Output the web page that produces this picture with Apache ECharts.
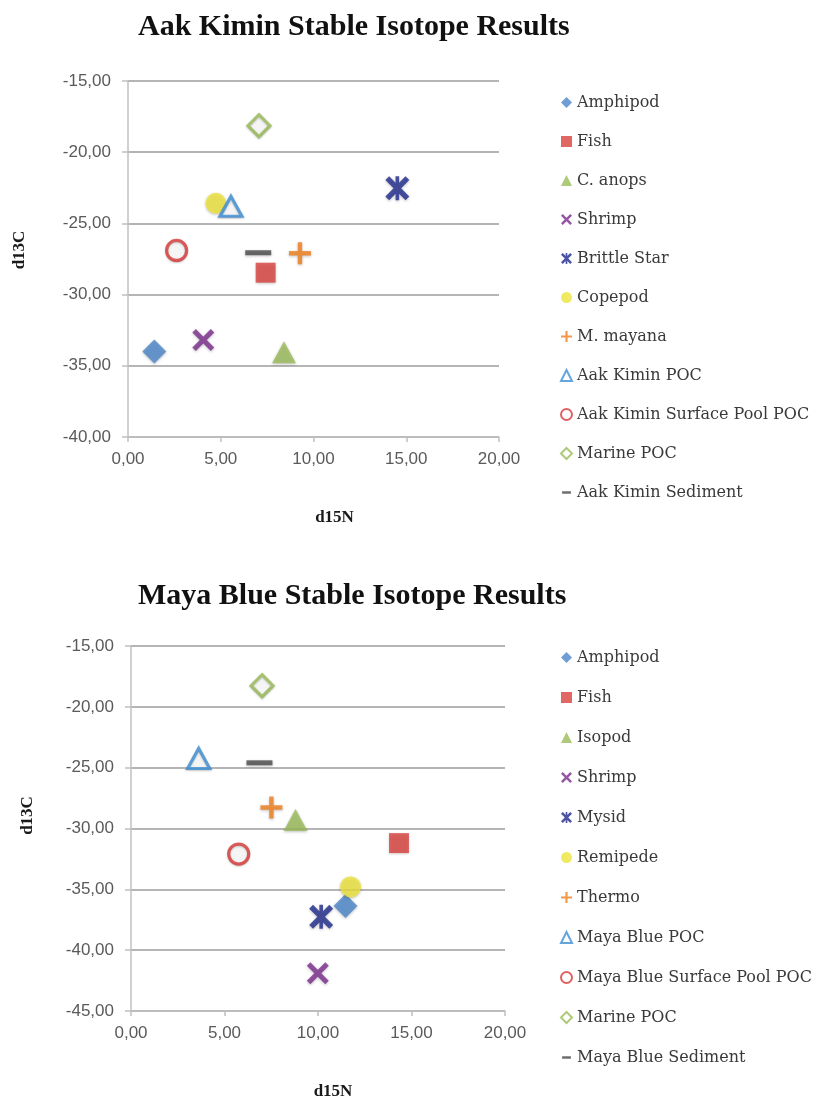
<!DOCTYPE html>
<html>
<head>
<meta charset="utf-8">
<script src="https://cdn.jsdelivr.net/npm/echarts@6/dist/echarts.min.js"></script>
<style>html,body{margin:0;padding:0;background:#fff;}#c{width:833px;height:1101px;}</style>
</head>
<body>
<div id="c"></div>
<script>
// ---- data ----
const aakTitle = 'Aak Kimin Stable Isotope Results';
const aakNames = ['Amphipod','Fish','C. anops','Shrimp','Brittle Star','Copepod','M. mayana','Aak Kimin POC','Aak Kimin Surface Pool POC','Marine POC','Aak Kimin Sediment'];
const aakD15N = [1.42, 7.42, 8.41, 4.06, 14.52, 4.74, 9.27, 5.55, 2.62, 7.06, 7.02];
const aakD13C = [-34.0, -28.46, -34.05, -33.19, -22.53, -23.59, -27.1, -23.8, -26.9, -18.14, -27.06];

const mayaTitle = 'Maya Blue Stable Isotope Results';
const mayaNames = ['Amphipod','Fish','Isopod','Shrimp','Mysid','Remipede','Thermo','Maya Blue POC','Maya Blue Surface Pool POC','Marine POC','Maya Blue Sediment'];
const mayaD15N = [11.47, 14.33, 8.80, 9.99, 10.17, 11.74, 7.51, 3.62, 5.76, 7.01, 6.87];
const mayaD13C = [-36.36, -31.2, -29.3, -41.9, -37.26, -34.8, -28.27, -24.24, -32.1, -18.26, -24.6];

const xTicks = [0, 5, 10, 15, 20];
const aakYTicks = [-40, -35, -30, -25, -20, -15];
const mayaYTicks = [-45, -40, -35, -30, -25, -20, -15];

// ---- marker styles (by position in legend) ----
const P_PLUS = 'path://M4,0 H6 V4 H10 V6 H6 V10 H4 V6 H0 V4 H4 Z';
const P_X = 'path://M0,1.6 L1.6,0 L5,3.4 L8.4,0 L10,1.6 L6.6,5 L10,8.4 L8.4,10 L5,6.6 L1.6,10 L0,8.4 L3.4,5 Z';
const P_STAR = 'path://M0,1.6 L1.6,0 L5,3.4 L8.4,0 L10,1.6 L6.6,5 L10,8.4 L8.4,10 L5,6.6 L1.6,10 L0,8.4 L3.4,5 Z M4.25,0 H5.75 V10 H4.25 Z';
const P_DASH_ICON = 'path://M0,0 L0.01,0 L0.01,0.01 Z M10,10 L9.99,10 L9.99,9.99 Z M1,3.8 H9 V6.2 H1 Z';
const kinds = [
  {symbol:'diamond', size:24, color:'#4A86C8'},
  {symbol:'rect', size:20, color:'#D9413E'},
  {symbol:'triangle', size:[24,22], color:'#9BBB59'},
  {symbol:P_X, size:22, color:'#7B2C8C'},
  {symbol:P_STAR, size:[24,24], color:'#1F2A8C'},
  {symbol:'circle', size:21, color:'#EEE33A'},
  {symbol:P_PLUS, size:22, color:'#F07D1C'},
  {symbol:'triangle', size:[22,20], color:'#3E8FD6', hollow:true},
  {symbol:'circle', size:20, color:'#D93A3A', hollow:true},
  {symbol:'diamond', size:22, color:'#9BBB59', hollow:true},
  {symbol:'rect', size:[26,5], color:'#4A4A4A', legendIcon:P_DASH_ICON}
];

function mkSeries(names, xs, ys, gi) {
  return names.map((n, i) => {
    const k = kinds[i];
    const st = k.hollow
      ? {color:'#ffffff', borderColor:k.color, borderWidth:3.2, shadowBlur:2, shadowColor:'rgba(0,0,0,0.25)', shadowOffsetY:1}
      : {color:k.color, shadowBlur:3, shadowColor:'rgba(0,0,0,0.3)', shadowOffsetY:1};
    return {
      name:n, type:'scatter', xAxisIndex:gi, yAxisIndex:gi,
      symbol:k.symbol, symbolSize:k.size, itemStyle:st,
      emphasis:{disabled:true},
      data:[[xs[i], ys[i]]]
    };
  });
}
function mkLegendData(names) {
  return names.map((n, i) => kinds[i].legendIcon ? {name:n, icon:kinds[i].legendIcon} : {name:n});
}

const fmt = v => v.toFixed(2).replace('.', ',');
const gridColor = '#9c9c9c';
const axColor = '#c0c0c0';
const lblStyle = {fontFamily:'Liberation Sans', fontSize:17, color:'#5a5a5a'};
const nameStyle = {fontFamily:'Liberation Serif', fontWeight:'bold', fontSize:17, color:'#1a1a1a'};

function mkX(gi, padLeft) {
  return {
    gridIndex:gi, type:'value', min:xTicks[0], max:xTicks[xTicks.length-1], interval:5,
    axisLine:{show:true, onZero:false, lineStyle:{color:axColor, width:1.5}},
    axisTick:{show:true, length:5, lineStyle:{color:axColor, width:1.5}},
    axisLabel:Object.assign({formatter:fmt, margin:14}, lblStyle),
    splitLine:{show:false},
    name:'d15N', nameLocation:'middle', nameGap:72,
    nameTextStyle:Object.assign({padding:[0,0,0,padLeft]}, nameStyle)
  };
}
function mkY(gi, ticks, gap, padLeft) {
  return {
    gridIndex:gi, type:'value', min:ticks[0], max:ticks[ticks.length-1], interval:5,
    axisLine:{show:true, onZero:false, lineStyle:{color:axColor, width:1.5}},
    axisTick:{show:true, length:6, lineStyle:{color:axColor, width:1.5}},
    axisLabel:Object.assign({formatter:fmt, margin:17}, lblStyle),
    splitLine:{show:true, lineStyle:{color:gridColor, width:1.5}},
    name:'d13C', nameLocation:'middle', nameGap:gap, nameRotate:90,
    nameTextStyle:Object.assign({padding:[0,0,0,padLeft]}, nameStyle)
  };
}
const legendText = {fontFamily:'DejaVu Serif', fontSize:16, color:'#3a3a3a', lineHeight:17};

const option = {
  backgroundColor:'#ffffff',
  animation:false,
  title:[
    {text:aakTitle, left:138, top:12, padding:0, textStyle:{fontFamily:'Liberation Serif', fontWeight:'bold', fontSize:30, color:'#111'}},
    {text:mayaTitle, left:138, top:581, padding:0, textStyle:{fontFamily:'Liberation Serif', fontWeight:'bold', fontSize:30, color:'#111'}}
  ],
  grid:[
    {left:128, top:81, width:371, height:356},
    {left:131, top:646, width:374, height:365}
  ],
  xAxis:[mkX(0, 42), mkX(1, 30)],
  yAxis:[mkY(0, aakYTicks, 100, 18), mkY(1, mayaYTicks, 95, 26)],
  legend:[
    {orient:'vertical', left:555, top:89, itemWidth:11, itemHeight:11, itemGap:22, data:mkLegendData(aakNames), textStyle:legendText, selectedMode:false},
    {orient:'vertical', left:555, top:644, itemWidth:11, itemHeight:11, itemGap:23, data:mkLegendData(mayaNames), textStyle:legendText, selectedMode:false}
  ],
  series:[].concat(mkSeries(aakNames, aakD15N, aakD13C, 0), mkSeries(mayaNames, mayaD15N, mayaD13C, 1))
};
const chart = echarts.init(document.getElementById('c'), null, {renderer:'canvas'});
chart.setOption(option);
</script>
</body>
</html>
